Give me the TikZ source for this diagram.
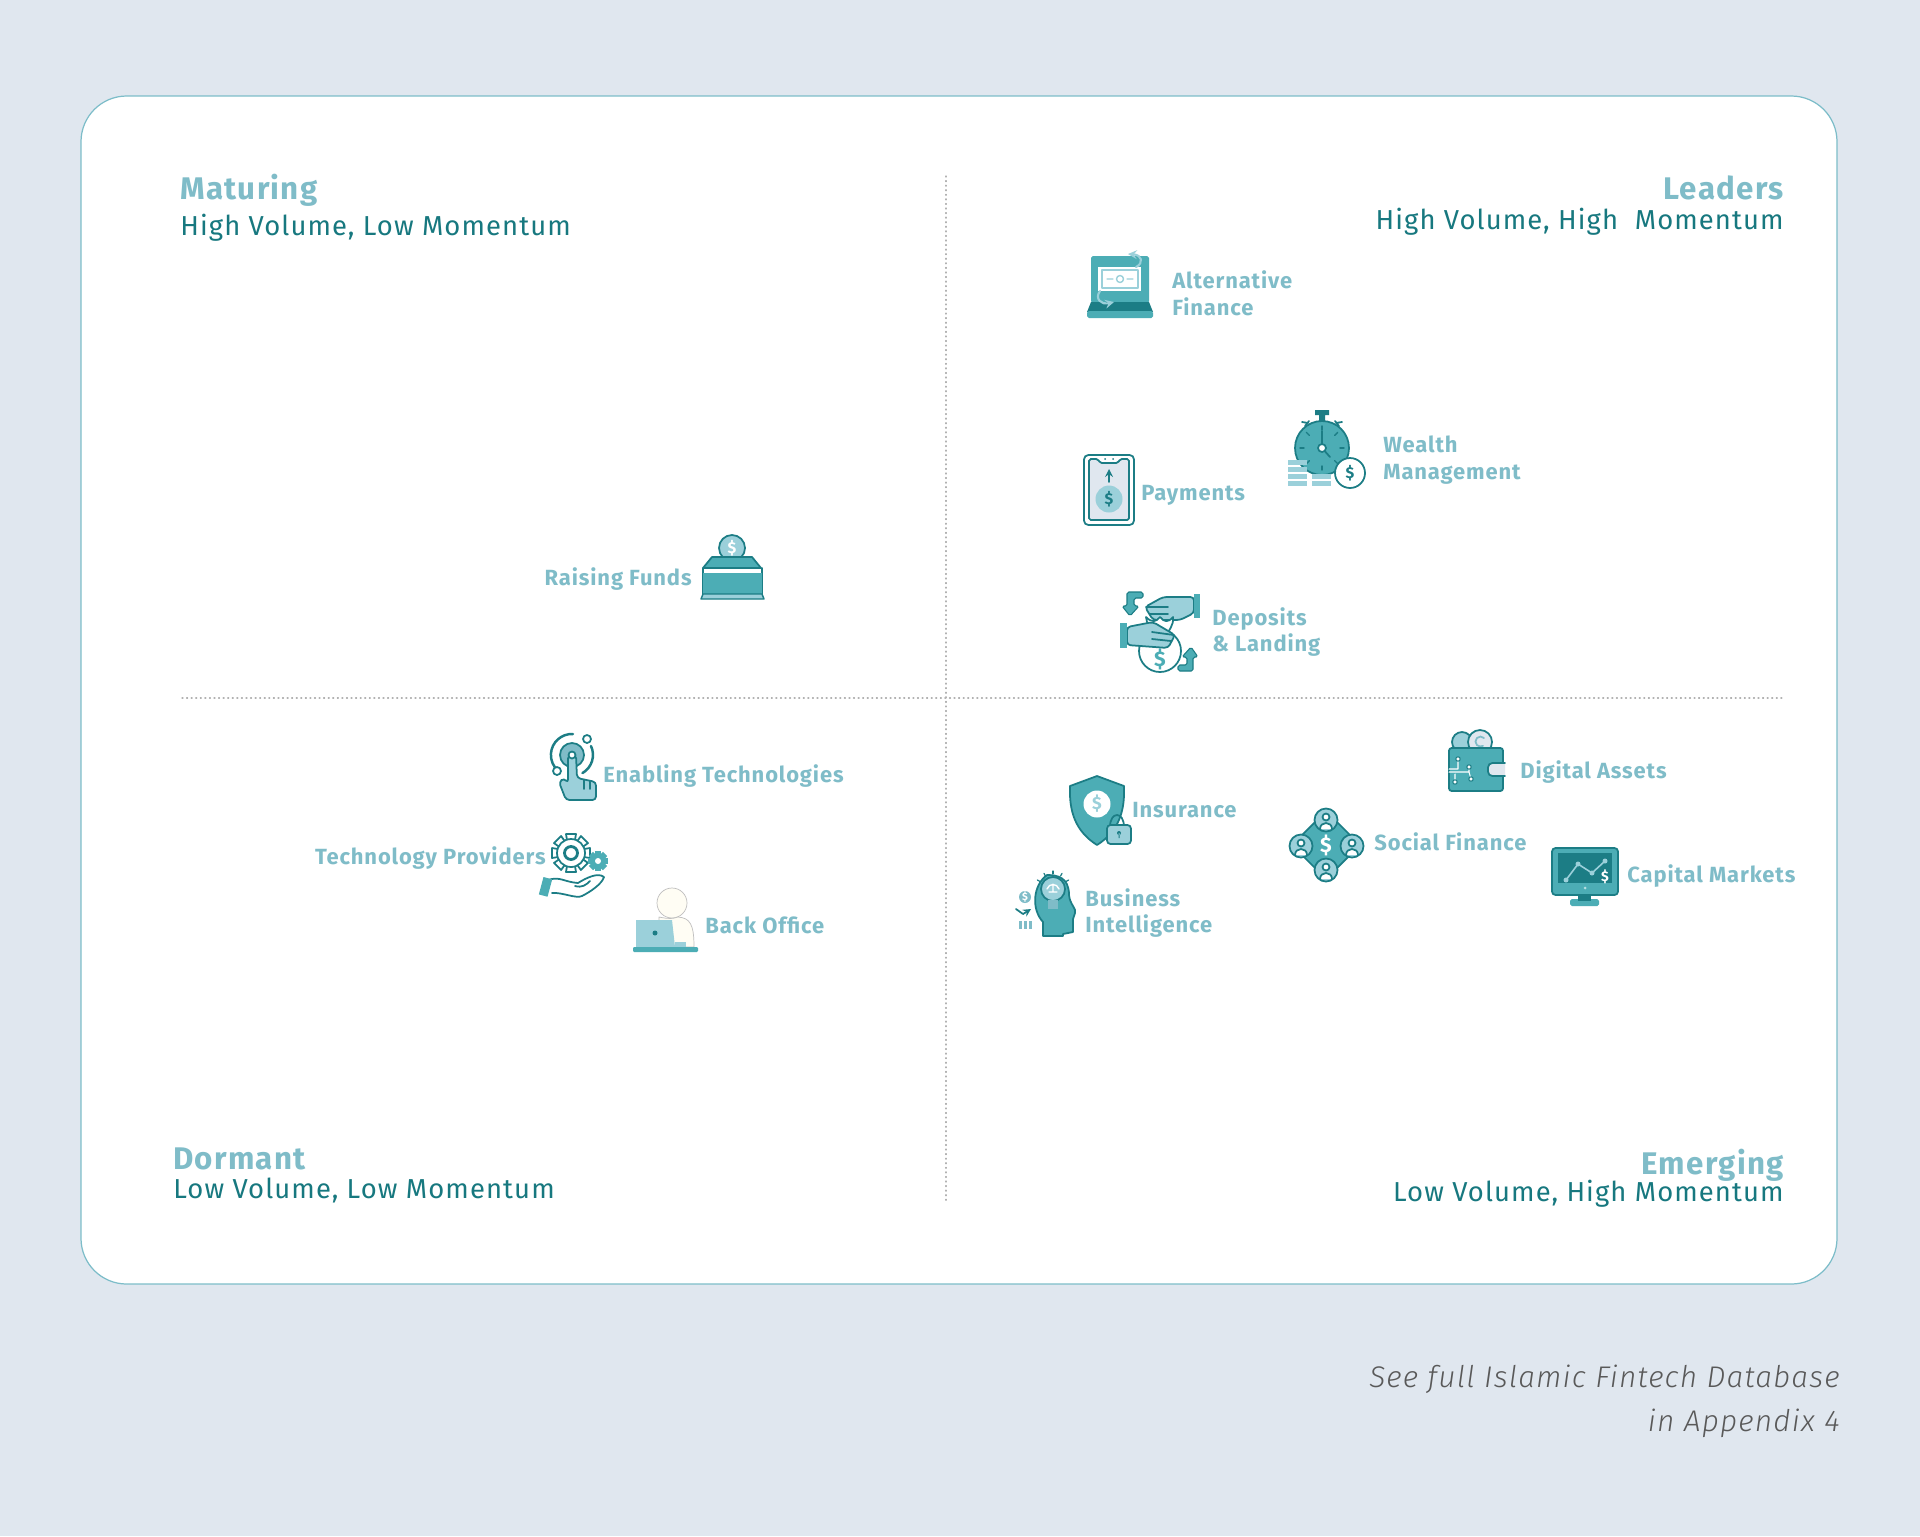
\documentclass[tikz,border=0pt]{standalone}
\usepackage{fontspec}
\setmainfont[LetterSpace=4]{Fira Sans}
\newfontfamily\notefont[LetterSpace=4]{Fira Sans Light}
\usetikzlibrary{arrows.meta}
\definecolor{paper}{HTML}{E0E7EF}
\definecolor{cardline}{HTML}{7DBDC9}
\definecolor{dark}{HTML}{1C7D85}
\definecolor{mid}{HTML}{4CADB5}
\definecolor{light}{HTML}{9BD0DA}
\definecolor{labtext}{HTML}{7FBCC8}
\definecolor{subtext}{HTML}{17787F}
\definecolor{cream}{HTML}{FFFDF4}
\tikzset{
	lab/.style={font=\bfseries\fontsize{12.5}{15.2}\selectfont,text=labtext,align=left,inner sep=0,anchor=west},
	labr/.style={lab,align=right,anchor=east},
	head/.style={font=\bfseries\fontsize{17.8}{20}\selectfont,text=labtext,inner sep=0},
	sub/.style={font=\fontsize{15.6}{16}\selectfont,text=subtext,inner sep=0},
	caption/.style={font=\notefont\itshape\fontsize{17}{25}\selectfont,text=black!65,align=right,inner sep=0,anchor=east},
	dollar/.style={font=\bfseries\fontsize{#1}{#1}\selectfont,inner sep=0},
	dollar/.default=8,
	divider/.style={black!30,line width=.6pt,dotted},
	thin line/.style={dark,line width=1pt}
}
\begin{document}
\begin{tikzpicture}[x=0.02cm,y=-0.02cm,line cap=round,line join=round]
	\tikzset{laptopicon/.pic={
			\fill[mid,rounded corners=1pt] (-29,-31) rectangle (29,16);
			\fill[white] (-22,-20) rectangle (21,4);
			\draw[light,line width=.8pt] (-18,-17) rectangle (18,1);
			\draw[light,line width=.8pt] (0,-8) circle (3.5) (-13,-8)--(-7,-8) (7,-8)--(13,-8);
			\fill[dark] (-29,15)--(29,15)--(33,25)--(-33,25)--cycle;
			\fill[mid,rounded corners=1pt] (-33,24) rectangle (33,31);
			\draw[light,line width=1.2pt,-stealth] (16,-20) .. controls (24,-24) and (22,-32) .. (8,-33);
			\draw[light,line width=1.2pt,-stealth] (-20,4) .. controls (-26,12) and (-18,18) .. (-6,15);
	}}
	\tikzset{tableticon/.pic={
			\draw[thin line,fill=white,rounded corners=2.5pt] (-25,-35) rectangle (25,35);
			\draw[thin line,fill=paper,rounded corners=1pt] (-20,-31)--(-11,-31)--(-9,-27)--(9,-27)--(11,-31)--(20,-31)--(20,30)--(-20,30)--cycle;
			\fill[dark] (-4,-31) circle (1) (4,-31) circle (1);
			\draw[thin line,-stealth] (0,-8)--(0,-21);
			\fill[light] (0,9) circle (13.5);
			\node[dollar=9,text=dark] (sign) at (0,9) {\$};
	}}
	\tikzset{watchicon/.pic={
			\fill[dark] (-7,-38) rectangle (7,-33) (-3,-33) rectangle (3,-25);
			\draw[thin line] (-17,-22)--(-13,-27) (-20,-26)--(-14,-25) (17,-22)--(13,-27) (20,-26)--(14,-25);
			\draw[thin line,fill=mid] (0,0) circle (27);
			\foreach \a in {0,45,...,315}{\draw[dark,line width=.8pt,rotate=\a] (0,-22)--(0,-18);}
			\draw[thin line] (0,-17)--(0,0)--(8,9);
			\draw[thin line,fill=white] (0,0) circle (4);
			\foreach \y in {12,19,26,33}{\fill[light] (-34,\y) rectangle (-15,\y+5);}
			\foreach \y in {26,33}{\fill[light] (-10,\y) rectangle (9,\y+5);}
			\draw[thin line,fill=white] (28,25) circle (15);
			\node[dollar=9,text=dark] (sign) at (28,25) {\$};
	}}
	\tikzset{handsicon/.pic={
			\draw[thin line,fill=white] (0,21) circle (21);
			\node[dollar=12,text=mid] (sign) at (0,29) {\$};
			\draw[thin line,fill=light,rounded corners=2pt] (34,-33)--(3,-33)--(-15,-23)--(-7,-10)--(20,-10)--(34,-17)--cycle;
			\draw[thin line] (-14,-23)--(8,-23) (-10,-16)--(8,-16);
			\fill[mid] (34,-36) rectangle (40,-12);
			\draw[thin line,fill=white] (-14,-13)..controls(-8,-7)and(-4,-8)..(0,-13)..controls(4,-8)and(8,-7)..(13,-13)..controls(14,-4)and(8,0)..(8,4)--(-8,4)..controls(-8,-2)and(-14,-6)..(-14,-13)--cycle;
			\draw[thin line,fill=light,rounded corners=2pt] (-33,-3)--(-7,-8)--(15,5)--(8,18)--(-33,15)--cycle;
			\draw[thin line] (-8,2)--(14,5) (-8,9)--(11,11);
			\fill[mid] (-40,-7) rectangle (-33,18);
			\draw[dark,line width=.6pt,fill=mid,rounded corners=1pt] (-17,-38)--(-17,-32)--(-26,-32)--(-26,-24)--(-21,-24)--(-30,-14)--(-38,-24)--(-33,-24)--(-33,-38)--cycle;
			\draw[dark,line width=.6pt,fill=mid,rounded corners=1pt] (18,41)--(18,35)--(27,35)--(27,27)--(22,27)--(31,17)--(38,27)--(33,27)--(33,41)--cycle;
	}}
	\tikzset{boxicon/.pic={
			\draw[thin line,fill=light] (0,-16) circle (13);
			\node[dollar=9,text=white] (sign) at (0,-16) {\$};
			\fill[dark] (-8,-7) rectangle (8,-5);
			\draw[thin line,fill=mid] (-20,-7)--(20,-7)--(29,4)--(-29,4)--cycle;
			\draw[thin line] (-29,4)--(-29,30) (30,4)--(30,30);
			\fill[mid] (-29,9) rectangle (30,30);
			\draw[dark,line width=.8pt,fill=light] (-29,30)--(30,30)--(32,35)--(-31,35)--cycle;
	}}
	\tikzset{touchicon/.pic={
			\draw[dark,line width=1.4pt] (1,-21) arc (-87:-230:21);
			\draw[dark,line width=1.4pt] (19,-9) arc (-25:60:21);
			\draw[thin line,fill=white] (15,-16) circle (4) (-15,16) circle (4);
			\draw[thin line,fill=labtext] (0,0) circle (12);
			\draw[thin line,fill=light,rounded corners=2pt] (-4,0)--(-4,28)--(-8,23)--(-13,27)--(-6,45)--(24,45)--(24,27)--(5,23)--(4,0)--cycle;
			\draw[thin line] (12,25)--(12,34) (18,26)--(18,34);
			\draw[thin line,fill=white] (0,0) circle (3.5);
	}}
	\tikzset{gearicon/.pic={
			\foreach \a in {0,45,...,315}{\draw[thin line,fill=white,rotate around={\a:(-1,-13)}] (-6,-32)--(-5,-26)--(3,-26)--(4,-32)--cycle;}
			\draw[thin line,fill=white] (-1,-13) circle (14);
			\draw[dark,line width=1.6pt,fill=white] (-1,-13) circle (6.5);
			\foreach \a in {0,45,...,315}{\fill[mid,rotate around={\a:(26,-5)}] (23,-15) rectangle (29,-8);}
			\fill[mid] (26,-5) circle (8);
			\fill[white] (26,-5) circle (3);
			\draw[thin line,fill=white] (-24,14)..controls(-12,10)and(-8,16)..(6,17)..controls(14,12)and(26,6)..(32,11)..controls(30,18)and(18,26)..(10,30)..controls(4,33)and(-10,26)..(-20,27);
			\draw[thin line] (3,20)..controls(10,22)and(14,19)..(18,15);
			\fill[mid,rotate around={-15:(-26,21)}] (-31,12) rectangle (-22,30);
	}}
	\tikzset{officeicon/.pic={
			\draw[black!25,line width=.4pt,fill=cream] (8,-29) circle (15);
			\draw[black!25,line width=.4pt,fill=cream] (-5,-15)..controls(5,-13)and(8,-13)..(14,-15)..controls(26,-14)and(30,-8)..(30,15)--(-5,15)--cycle;
			\fill[light] (-28,-12)--(8,-12)--(11,15)--(-28,15)--cycle;
			\fill[light] (11,10) rectangle (22,15);
			\fill[dark] (-9,1) circle (2.5);
			\fill[mid,rounded corners=.6pt] (-31,15) rectangle (34,20);
	}}
	\tikzset{shieldicon/.pic={
			\draw[thin line,fill=mid] (0,-35)--(-27,-25)..controls(-28,0)and(-22,20)..(0,34)..controls(22,20)and(28,0)..(27,-25)--cycle;
			\fill[white] (0,-7) circle (13.5);
			\node[dollar=10,text=light] (sign) at (0,-7) {\$};
			\draw[thin line] (13,16)..controls(13,0)and(27,0)..(27,16);
			\draw[thin line,fill=light,rounded corners=2pt] (10,14) rectangle (34,33);
			\fill[dark] (22,22) circle (2) (21.5,22) rectangle (22.5,27);
	}}
	\tikzset{headicon/.pic={
			\draw[thin line,fill=mid] (-12,39)--(-12,25)..controls(-24,12)and(-22,-12)..(-8,-22)..controls(2,-22)and(14,-20)..(14,-2)..controls(15,8)and(22,12)..(20,16)--(18,22)--(18,35)--(8,37)--(8,39)--cycle;
			\draw[thin line,fill=light] (-2,-8) circle (12);
			\draw[white,line width=.8pt] (-8,-8)..controls(-6,-14)and(2,-14)..(4,-8) (-6,-5)--(2,-5) (-2,-13)--(-2,-5);
			\fill[labtext] (-7,3) rectangle (3,12);
			\foreach \a in {-60,-30,0,30,60}{\draw[dark,line width=.7pt,rotate around={\a:(-2,-8)}] (-2,-23)--(-2,-26);}
			\fill[labtext] (-30,0) circle (6);
			\node[dollar=6,text=white] (sign) at (-30,0) {\$};
			\draw[thin line,-stealth] (-39,12)--(-32,17)--(-24,12);
			\foreach \x in {-36,-31,-26}{\fill[labtext] (\x,24) rectangle (\x+3,32);}
	}}
	\tikzset{peopleicon/.pic={
			\draw[thin line,fill=mid,rounded corners=2pt] (0,-34)--(34,0)--(0,34)--(-34,0)--cycle;
			\node[dollar=12,text=white] (sign) at (0,0) {\$};
			\foreach \p in {(0,-25),(0,25),(-25,1),(26,1)}{
				\begin{scope}[shift={\p}]
					\draw[thin line,fill=light] (0,0) circle (11.5);
					\draw[thin line,fill=white] (-6,9)..controls(-6,1)and(6,1)..(6,9);
					\draw[thin line,fill=white] (0,-3) circle (3.5);
				\end{scope}
			}
	}}
	\tikzset{walleticon/.pic={
			\draw[thin line,fill=light] (-15,-20) circle (10);
			\draw[thin line,fill=paper] (3,-20) circle (12);
			\draw[labtext,line width=1pt] (7,-24) arc (-45:-300:5);
			\draw[thin line,fill=mid,rounded corners=1.5pt] (-28,-14)--(26,-14)--(26,29)--(-28,29)--cycle;
			\draw[white,line width=.6pt] (-19,-3)--(-19,7)--(-28,7) (-8,5)--(-8,10)--(-28,10) (-22,12)--(-22,20) (-8,10)--(-6,17);
			\foreach \p in {(-19,-3),(-8,5),(-22,20),(-6,17)}{\draw[dark,line width=.6pt,fill=white] \p circle (2.2);}
			\draw[thin line,fill=paper,rounded corners=2.5pt] (28,1)--(11,1)--(11,14)--(28,14);
	}}
	\tikzset{screenicon/.pic={
			\fill[mid,rounded corners=1pt] (-15,24) rectangle (14,31);
			\fill[dark] (-7,20) rectangle (6,26);
			\draw[thin line,fill=mid,rounded corners=2pt] (-33,-27) rectangle (33,20);
			\fill[dark] (-27,-22) rectangle (27,8);
			\draw[light,line width=.9pt] (-19,5)--(-7,-11)--(7,-2)--(20,-14);
			\fill[light] (-19,5) circle (2.5) (-7,-11) circle (2.5) (7,-2) circle (2.5) (20,-14) circle (2.5);
			\node[dollar=8,text=white] (sign) at (20,2) {\$};
			\fill[white!60!mid] (0,13) circle (1.5);
	}}
	\useasboundingbox (0,0) rectangle (1920,1536);
	\fill[paper] (0,0) rectangle (1920,1536);
	\draw[cardline,line width=.7pt,fill=white,rounded corners=26pt] (81,96) rectangle (1837,1284);
	\draw[divider] (946,176)--(946,1201);
	\draw[divider] (182,698)--(1784,698);
	% quadrant titles
	\node[head,anchor=west] (maturing) at (180,190) {Maturing};
	\node[sub,anchor=west] (maturingsub) at (180,228) {High Volume, Low Momentum};
	\node[head,anchor=east] (leaders) at (1784,188) {Leaders};
	\node[sub,anchor=east] (leaderssub) at (1784,222) {High Volume, High\ \ Momentum};
	\node[head,anchor=west] (dormant) at (173,1159) {Dormant};
	\node[sub,anchor=west] (dormantsub) at (173,1190) {Low Volume, Low Momentum};
	\node[head,anchor=east] (emerging) at (1784,1165) {Emerging};
	\node[sub,anchor=east] (emergingsub) at (1784,1194) {Low Volume, High Momentum};
	% sectors
	\pic at (1120,287) {laptopicon};
	\node[lab] (alternative) at (1172,293) {Alternative\\Finance};
	\pic at (1109,490) {tableticon};
	\node[lab] (payments) at (1141,495) {Payments};
	\pic at (1322,448) {watchicon};
	\node[lab] (wealth) at (1383,460) {Wealth\\Management};
	\pic at (1160,630) {handsicon};
	\node[lab] (deposits) at (1212,632) {Deposits\\\& Landing};
	\pic at (732,564) {boxicon};
	\node[labr] (raising) at (692,579) {Raising Funds};
	\pic at (572,755) {touchicon};
	\node[lab] (enabling) at (603,776) {Enabling Technologies};
	\pic at (572,866) {gearicon};
	\node[labr] (providers) at (546,858) {Technology Providers};
	\pic at (664,932) {officeicon};
	\node[lab] (backoffice) at (705,925) {Back Office};
	\pic at (1097,811) {shieldicon};
	\node[lab] (insurance) at (1132,810) {Insurance};
	\pic at (1055,897) {headicon};
	\node[lab] (business) at (1085,913) {Business\\Intelligence};
	\pic at (1326,845) {peopleicon};
	\node[lab] (social) at (1374,842) {Social Finance};
	\pic at (1477,762) {walleticon};
	\node[lab] (digital) at (1520,772) {Digital Assets};
	\pic at (1585,875) {screenicon};
	\node[lab] (capital) at (1627,876) {Capital Markets};
	% note
	\node[caption] (note) at (1840,1401) {See full Islamic Fintech Database\\in Appendix 4};
\end{tikzpicture}
\end{document}
